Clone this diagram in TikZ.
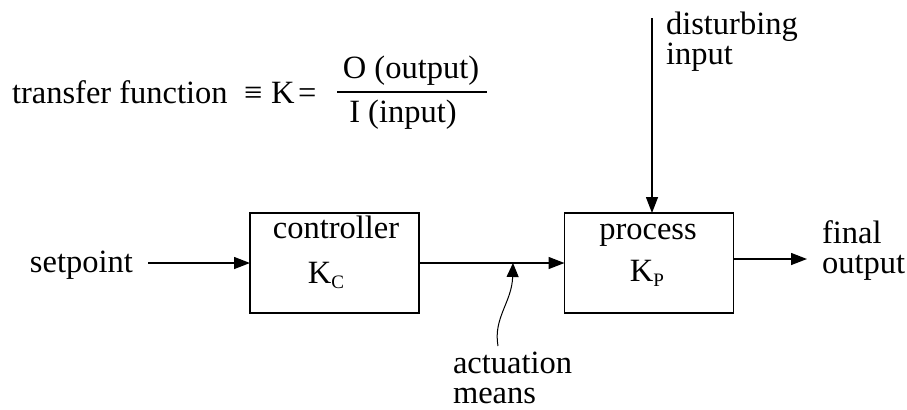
\documentclass[tikz,border=0pt]{standalone}
\usepackage{fontspec}
\setmainfont{Liberation Serif}
\usetikzlibrary{arrows.meta}
\newcommand{\mainfs}{\fontsize{16.25}{19.5}\selectfont}
\newcommand{\subfs}{\fontsize{9.5}{10}\selectfont}
\begin{document}
\begin{tikzpicture}[x=0.5pt,y=-0.5pt,
  every node/.style={font=\mainfs, inner sep=0pt, outer sep=0pt},
  blockbox/.style={draw, line width=0.7pt, minimum width=84.5pt, minimum height=50pt},
  arr/.style={line width=0.7pt, -{Triangle[length=8pt,width=6pt]}},
  thinarr/.style={line width=0.5pt, -{Triangle[length=7pt,width=6pt]}}]
\useasboundingbox (0,0) rectangle (907,409);
% equation
\node[anchor=base west] (tf) at (12,103) {transfer function};
\node[anchor=base west] (eqv) at (244,103) {≡};
\node[anchor=base west] (kk) at (271,103) {K};
\node[anchor=base west] (eqs) at (298,103) {=};
\node[anchor=base] (num) at (411,78) {O (output)};
\node[anchor=base] (den) at (403,122) {I (input)};
\coordinate (barl) at (337,92);
\coordinate (barr) at (487,92);
\draw[line width=0.7pt] (barl) -- (barr);
% blocks
\node[blockbox] (ctrl) at (334.5,263) {};
\node[blockbox] (proc) at (649,263) {};
\node[anchor=base] (ctrlt) at (336,238) {controller};
\node[anchor=base] (ctrlk) at (326,283) {K\raisebox{-2.5pt}{\subfs C}};
\node[anchor=base] (proct) at (648,239) {process};
\node[anchor=base] (prock) at (647,281) {K\raisebox{-2.5pt}{\subfs P}};
% setpoint
\node[anchor=base west] (sp) at (30,272) {setpoint};
\coordinate (spend) at (148,263);
\draw[arr] (spend) -- (ctrl.west);
% actuation
\draw[arr] (ctrl.east) -- (proc.west);
\coordinate (actpt) at (513,263);
\coordinate (acts) at (498,346);
\draw[thinarr] (acts) .. controls (493,318) and (512,302) .. (actpt);
\node[anchor=base west] (act1) at (453,373) {actuation};
\node[anchor=base west] (act2) at (453,403) {means};
% disturbing input
\coordinate (dtop) at (652,18);
\draw[arr] (dtop) -- (dtop |- proc.north);
\node[anchor=base west] (dis1) at (666,34) {disturbing};
\node[anchor=base west] (dis2) at (666,64) {input};
% output
\coordinate (outend) at (807,259);
\draw[arr] (proc.east |- outend) -- (outend);
\node[anchor=base west] (fin1) at (822,243) {final};
\node[anchor=base west] (fin2) at (822,273) {output};
\end{tikzpicture}
\end{document}
